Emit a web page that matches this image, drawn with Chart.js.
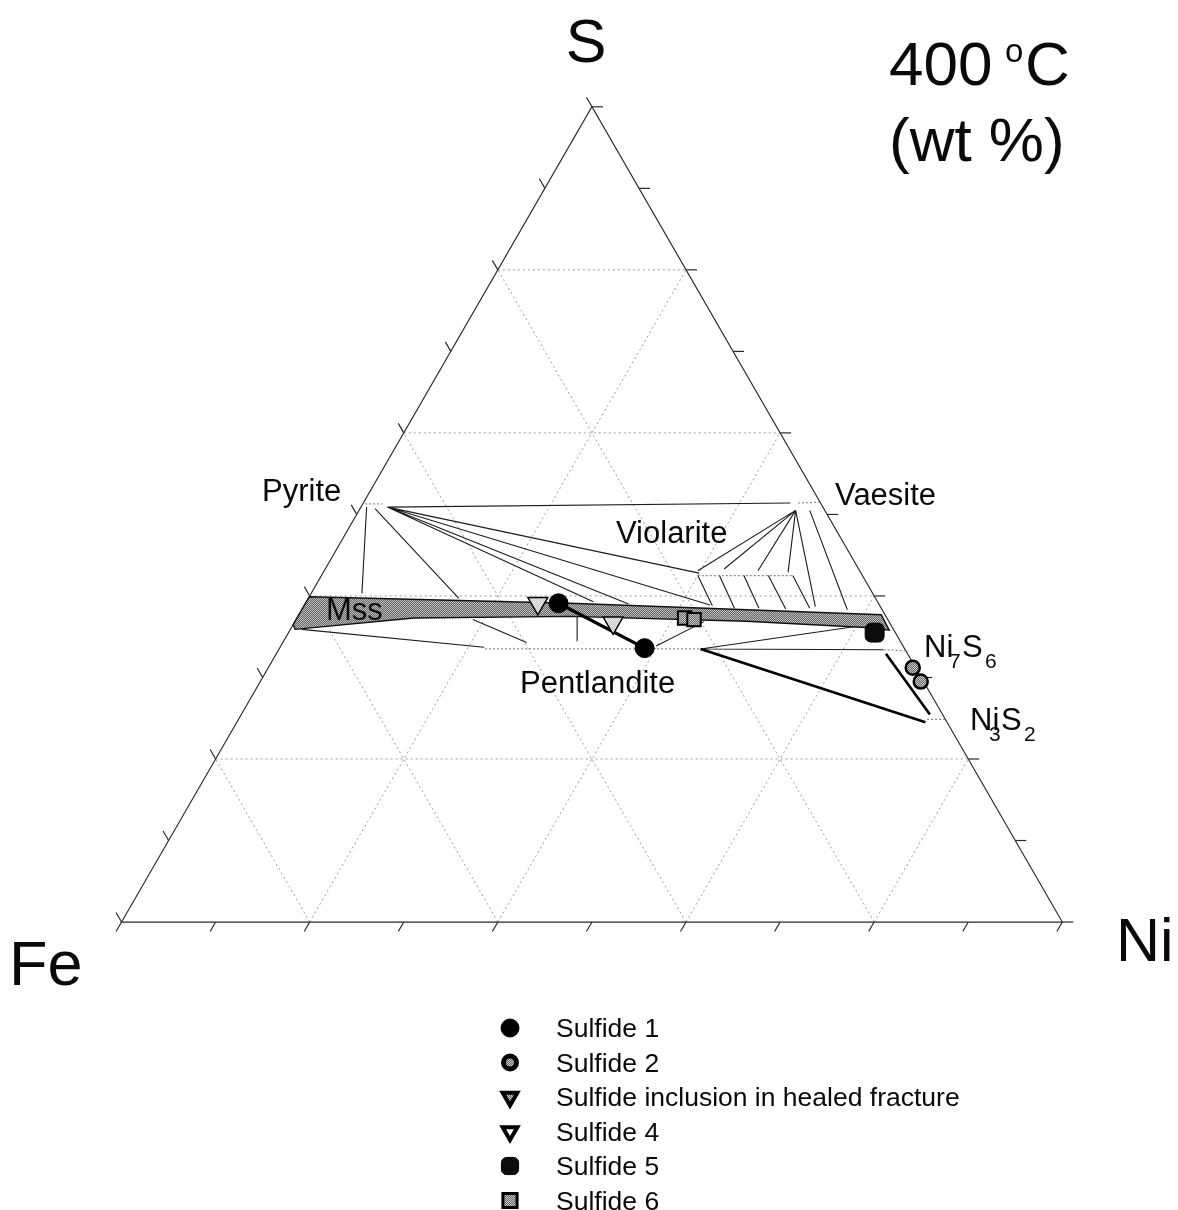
<!DOCTYPE html>
<html>
<head>
<meta charset="utf-8">
<title>Fe–Ni–S at 400 °C</title>
<script src="https://cdn.jsdelivr.net/npm/chart.js@4.4.1/dist/chart.umd.min.js"></script>
<style>
  html, body { margin: 0; padding: 0; background: #ffffff; }
  #wrap { width: 1178px; height: 1210px; }
</style>
</head>
<body>
<div id="wrap"><canvas id="c" width="1178" height="1210"></canvas></div>
<script>
// Compositions are [Ni wt%, S wt%]; Fe is the balance to 100 %.

// Monosulfide solid solution field (outline, closed)
const mssField = [[0,39.9],[28.1,39.1],[47.3,38.3],[61.9,37.7],[63.7,35.8],[61.6,36.1],
                  [48.0,36.9],[29.0,37.5],[12.4,37.3],[0.5,35.9],[0,36.5],[0,39.9]];

// Thin tie lines
const tieLines = [
  [[2.8,50.9],[45.4,51.4]],
  [[2.8,50.9],[40.0,42.8]],
  [[2.8,50.9],[43.1,38.9]],
  [[2.8,50.9],[34.4,39.0]],
  [[2.8,50.9],[30.5,39.3]],
  [[0.6,50.9],[5.4,40.3]],
  [[1.6,50.7],[16.0,39.7]],
  [[46.4,50.5],[39.7,43.1]],
  [[46.4,50.5],[42.4,43.3]],
  [[46.4,50.5],[46.1,43.1]],
  [[46.4,50.5],[49.4,42.9]],
  [[46.4,50.5],[54.4,38.7]],
  [[47.9,50.5],[58.0,38.3]],
  [[40.0,42.5],[43.4,38.8]],
  [[42.3,42.5],[45.9,38.5]],
  [[44.9,42.5],[48.5,38.5]],
  [[47.5,42.5],[51.4,38.4]],
  [[50.1,42.5],[53.9,38.5]],
  [[1.2,35.9],[21.7,33.7]],
  [[18.8,37.1],[25.9,34.3]],
  [[29.7,37.45],[31.2,34.45]],
  [[43.5,36.85],[39.9,33.85]],
  [[44.8,33.5],[59.9,36.25]],
  [[44.8,33.5],[64.3,33.4]]
];

// Dotted phase extents
const dottedLines = [
  [[0.25,51.3],[2.1,51.3]],
  [[46.2,51.4],[48.7,51.5]],
  [[40.0,42.5],[50.1,42.5]],
  [[21.9,33.5],[44.8,33.5]],
  [[64.3,33.4],[67.0,33.25]],
  [[73.2,24.85],[75.2,24.85]]
];

// Heavy boundaries
const heavyLines = [
  [[44.8,33.5],[73.2,24.5]],
  [[64.8,32.9],[73.2,25.45]]
];

// Analysed sulfides
const sulfide1       = [[26.9,39.1],[38.8,33.6]];
const sulfide2       = [[68.5,31.2],[70.2,29.5]];
const healedFracture = [[24.7,39.1]];
const sulfide4       = [[33.9,36.7]];
const sulfide5       = [[62.3,35.5]];
const sulfide6       = [[41.2,37.3],[42.3,37.1]];

const gridSteps = [20, 40, 60, 80];
const tickSteps = [0,10,20,30,40,50,60,70,80,90,100];

// ternary -> cartesian (Fe at origin, Ni at x = 1, S at the apex)
function tern(p) {
  return { x: (p[0] + p[1] / 2) / 100, y: p[1] * Math.sqrt(3) / 200 };
}
function segments(list) {
  const out = [];
  list.forEach((seg, i) => {
    if (i) out.push({ x: null, y: null });
    seg.forEach(p => out.push(tern(p)));
  });
  return out;
}

const canvas = document.getElementById('c');
const ctx = canvas.getContext('2d');

function dither(a, b) {
  const c = document.createElement('canvas');
  c.width = 2; c.height = 2;
  const g = c.getContext('2d');
  g.fillStyle = a; g.fillRect(0, 0, 2, 2);
  g.fillStyle = b; g.fillRect(0, 0, 1, 1); g.fillRect(1, 1, 1, 1);
  return ctx.createPattern(c, 'repeat');
}
const mssFill   = dither('#666666', '#bdbdbd');
const greyFill  = dither('#6a6a6a', '#c6c6c6');
const lightFill = dither('#c4c4c4', '#f0f0f0');

const FONT = '"Liberation Sans", Arial, Helvetica, sans-serif';

// grid, triangle frame and ticks
const framePlugin = {
  id: 'ternaryFrame',
  beforeDatasetsDraw(chart) {
    const c = chart.ctx, sx = chart.scales.x, sy = chart.scales.y;
    const P = (ni, s) => { const t = tern([ni, s]); return [sx.getPixelForValue(t.x), sy.getPixelForValue(t.y)]; };
    const seg = (a, b) => { c.beginPath(); c.moveTo(a[0], a[1]); c.lineTo(b[0], b[1]); c.stroke(); };
    c.save();
    c.strokeStyle = '#9c9c9c'; c.lineWidth = 1; c.setLineDash([2, 3]);
    gridSteps.forEach(k => {
      seg(P(0, k), P(100 - k, k));
      seg(P(k, 0), P(k, 100 - k));
      seg(P(100 - k, 0), P(0, 100 - k));
    });
    c.setLineDash([]);
    c.strokeStyle = '#2a2a2a'; c.lineWidth = 1.2;
    const fe = P(0, 0), ni = P(100, 0), s = P(0, 100);
    c.beginPath(); c.moveTo(fe[0], fe[1]); c.lineTo(ni[0], ni[1]); c.lineTo(s[0], s[1]); c.closePath(); c.stroke();
    const L = 11;
    tickSteps.forEach(t => {
      const b = P(t, 0);       seg(b, [b[0] - 0.5 * L, b[1] + 0.866 * L]);
      const l = P(0, t);       seg(l, [l[0] - 0.5 * L, l[1] - 0.866 * L]);
      const r = P(100 - t, t); seg(r, [r[0] + L, r[1]]);
    });
    // Mss field fill
    const idx = chart.data.datasets.findIndex(d => d.id === 'mss');
    const pts = chart.getDatasetMeta(idx).data;
    c.beginPath();
    pts.forEach((p, i) => i ? c.lineTo(p.x, p.y) : c.moveTo(p.x, p.y));
    c.closePath();
    c.fillStyle = mssFill; c.fill();
    c.restore();
  }
};

// phase names, corner labels and temperature
const labelPlugin = {
  id: 'ternaryLabels',
  afterDatasetsDraw(chart) {
    const c = chart.ctx;
    c.save();
    c.fillStyle = '#0a0a0a';
    c.textBaseline = 'alphabetic';
    const txt = (s, x, y, size, align) => { c.font = size + 'px ' + FONT; c.textAlign = align || 'left'; c.fillText(s, x, y); };
    txt('S', 586, 62, 61, 'center');
    txt('Fe', 9, 985, 63);
    txt('Ni', 1116, 961, 61);
    txt('400', 889, 85, 62);
    txt('o', 1005, 62, 33);
    txt('C', 1025, 85, 62);
    txt('(wt %)', 889, 161, 62);
    txt('Pyrite', 262, 501, 31);
    txt('Vaesite', 835, 505, 31);
    txt('Violarite', 616, 543, 31);
    txt('Mss', 326, 620, 31);
    txt('Pentlandite', 520, 693, 31);
    txt('Ni', 924, 657, 31); txt('7', 949, 668, 21); txt('S', 962, 657, 31); txt('6', 985, 668, 21);
    txt('Ni', 970, 730, 31); txt('3', 989, 741, 21); txt('S', 1001, 730, 31); txt('2', 1024, 741, 21);
    c.restore();
  }
};

// legend built from the marker datasets
const legendPlugin = {
  id: 'sulfideLegend',
  afterDraw(chart) {
    const c = chart.ctx;
    const items = chart.data.datasets.filter(d => d.legendRow !== undefined).sort((a, b) => a.legendRow - b.legendRow);
    c.save();
    items.forEach((d, i) => {
      const y = 1028 + i * 34.5;
      c.save();
      c.fillStyle = d.legendFill || d.pointBackgroundColor;
      c.strokeStyle = '#000';
      c.lineWidth = d.legendBorder;
      c.lineJoin = 'miter';
      Chart.helpers.drawPoint(c, { pointStyle: d.pointStyle, rotation: d.rotation || 0,
        radius: d.legendRadius, borderWidth: d.legendBorder }, 510, y);
      c.restore();
      c.fillStyle = '#0a0a0a';
      c.font = '26.5px ' + FONT;
      c.textAlign = 'left';
      c.fillText(d.label, 556, y + 9);
    });
    c.restore();
  }
};

const lineBase = { showLine: true, pointRadius: 0, pointHoverRadius: 0, spanGaps: false, fill: false };

new Chart(ctx, {
  type: 'scatter',
  data: {
    datasets: [
      Object.assign({ id: 'mss', data: mssField.map(tern), borderColor: '#111', borderWidth: 1.4, order: 20 }, lineBase),
      Object.assign({ id: 'ties', data: segments(tieLines), borderColor: '#1c1c1c', borderWidth: 1.1, order: 15 }, lineBase),
      Object.assign({ id: 'dotted', data: segments(dottedLines), borderColor: '#8a8a8a', borderWidth: 1.2,
                      borderDash: [2, 2], order: 14 }, lineBase),
      Object.assign({ id: 'heavy', data: segments(heavyLines), borderColor: '#000', borderWidth: 2.6, order: 13 }, lineBase),
      {
        label: 'Sulfide 1', data: sulfide1.map(tern), showLine: true, borderColor: '#000', borderWidth: 3.2,
        pointStyle: 'circle', pointRadius: 9.5, pointBackgroundColor: '#000', pointBorderColor: '#000', pointBorderWidth: 1,
        order: 5, legendRow: 1, legendRadius: 9, legendBorder: 1
      },
      {
        label: 'Sulfide 2', data: sulfide2.map(tern), pointStyle: 'circle', pointRadius: 7,
        pointBackgroundColor: greyFill, pointBorderColor: '#000', pointBorderWidth: 2.5,
        order: 4, legendRow: 2, legendRadius: 6.5, legendBorder: 5
      },
      {
        label: 'Sulfide inclusion in healed fracture', data: healedFracture.map(tern), pointStyle: 'triangle',
        rotation: 180, pointRadius: 11.5, pointBackgroundColor: lightFill, pointBorderColor: '#000', pointBorderWidth: 1.5,
        legendFill: greyFill, order: 3, legendRow: 3, legendRadius: 8.5, legendBorder: 4
      },
      {
        label: 'Sulfide 4', data: sulfide4.map(tern), pointStyle: 'triangle', rotation: 180, pointRadius: 11.5,
        pointBackgroundColor: lightFill, pointBorderColor: '#000', pointBorderWidth: 1.5,
        legendFill: '#ffffff', order: 3, legendRow: 4, legendRadius: 8.5, legendBorder: 4
      },
      {
        label: 'Sulfide 5', data: sulfide5.map(tern), pointStyle: 'rectRounded', pointRadius: 11,
        pointBackgroundColor: '#0c0c0c', pointBorderColor: '#000', pointBorderWidth: 1,
        order: 2, legendRow: 5, legendRadius: 10, legendBorder: 1
      },
      {
        label: 'Sulfide 6', data: sulfide6.map(tern), pointStyle: 'rect', pointRadius: 9.5,
        pointBackgroundColor: greyFill, pointBorderColor: '#000', pointBorderWidth: 2,
        order: 1, legendRow: 6, legendRadius: 10, legendBorder: 3
      }
    ]
  },
  options: {
    responsive: false,
    animation: false,
    devicePixelRatio: 1,
    events: [],
    layout: { padding: 0 },
    scales: {
      x: { type: 'linear', min: -111 / 962, max: 1067 / 962, display: false },
      y: { type: 'linear', min: -281 / 962, max: 929 / 962, display: false }
    },
    plugins: { legend: { display: false }, tooltip: { enabled: false } }
  },
  plugins: [framePlugin, labelPlugin, legendPlugin]
});
</script>
</body>
</html>
